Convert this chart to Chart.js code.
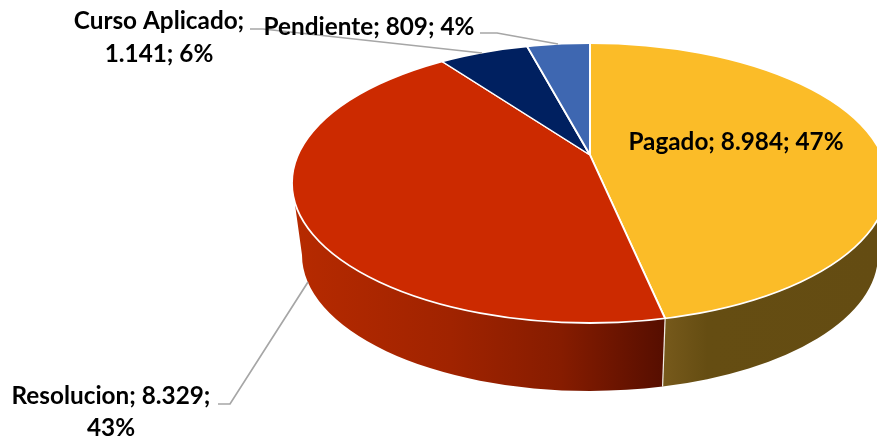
<!DOCTYPE html>
<html><head><meta charset="utf-8">
<style>html,body{margin:0;padding:0;background:#fff;overflow:hidden}canvas{display:block}</style>
<script src="https://cdn.jsdelivr.net/npm/chart.js@4"></script>
</head><body>
<canvas id="c" width="877" height="438"></canvas>
<script>
const categories = ["Pagado", "Resolucion", "Curso Aplicado", "Pendiente"];
const values = [8984, 8329, 1141, 809];
const colors = ["#FBBC28", "#CC2A00", "#002060", "#3E67B1"];

const total = values.reduce((a, b) => a + b, 0);
const fmt = v => String(v).replace(/\B(?=(\d{3})+$)/g, ".");
const pct = v => Math.round(v / total * 100) + "%";

// Projection of the tilted disc
const top3d = {cx: 590, cy: 183, rx: 298, ry: 140};
const low3d = {cx: 590, cy: 255, rx: 288, ry: 136};
const apex = {x: 590, y: 155};
const spread = {x: 375, y: 175};

function rayToEllipseParam(a) {
  const dx = Math.cos(a) * spread.x, dy = Math.sin(a) * spread.y;
  const ox = (apex.x - top3d.cx) / top3d.rx, oy = (apex.y - top3d.cy) / top3d.ry;
  const ux = dx / top3d.rx, uy = dy / top3d.ry;
  const A = ux * ux + uy * uy, B = 2 * (ox * ux + oy * uy), C = ox * ox + oy * oy - 1;
  const t = (-B + Math.sqrt(B * B - 4 * A * C)) / (2 * A);
  return Math.atan2(oy + uy * t, ox + ux * t);
}
function ellipseTop(ctx) { ctx.ellipse(top3d.cx, top3d.cy, top3d.rx, top3d.ry, 0, 0, Math.PI * 2); }

const wallStops = {
  0: [[0.0, "#76591B"], [0.2, "#654D12"], [1, "#644C12"]],
  1: [[0.0, "#B62A00"], [0.42, "#A02300"], [0.72, "#861C00"], [1, "#560E00"]]
};
const wallRange = {0: [665, 877], 1: [296, 664]};

const pie3d = {
  id: "pie3d",
  beforeDatasetsDraw(chart) {
    const ctx = chart.ctx, arcs = chart.getDatasetMeta(0).data;
    ctx.save();
    arcs.forEach((arc, i) => {
      if (!wallStops[i]) return;
      const s = arc.getProps(["startAngle", "endAngle"], true);
      const t0 = i === 0 ? 0 : rayToEllipseParam(s.startAngle);
      const t1 = i === 0 ? rayToEllipseParam(s.endAngle) : Math.PI;
      const g = ctx.createLinearGradient(wallRange[i][0], 0, wallRange[i][1], 0);
      wallStops[i].forEach(p => g.addColorStop(p[0], p[1]));
      ctx.beginPath();
      ctx.ellipse(top3d.cx, top3d.cy, top3d.rx, top3d.ry, 0, t0, t1);
      ctx.ellipse(low3d.cx, low3d.cy, low3d.rx, low3d.ry, 0, t1, t0, true);
      ctx.closePath();
      ctx.fillStyle = g;
      ctx.fill();
    });
    // seam between the two visible walls
    const tm = rayToEllipseParam(arcs[0].getProps(["endAngle"], true).endAngle);
    ctx.strokeStyle = "#F2EDE6";
    ctx.lineWidth = 1.2;
    ctx.beginPath();
    ctx.moveTo(top3d.cx + top3d.rx * Math.cos(tm), top3d.cy + top3d.ry * Math.sin(tm));
    ctx.lineTo(low3d.cx + low3d.rx * Math.cos(tm), low3d.cy + low3d.ry * Math.sin(tm));
    ctx.stroke();
    ctx.restore();

    // top face: the library's slices, foreshortened and cut by the disc outline
    const a = arcs[0].getProps(["x", "y", "outerRadius"], true);
    ctx.save();
    ctx.beginPath();
    ellipseTop(ctx);
    ctx.clip();
    ctx.translate(apex.x, apex.y);
    ctx.scale(spread.x / a.outerRadius, spread.y / a.outerRadius);
    ctx.translate(-a.x, -a.y);
  },
  afterDatasetsDraw(chart) {
    const ctx = chart.ctx;
    ctx.restore();
    ctx.save();
    ctx.strokeStyle = "#FFFFFF";
    ctx.lineWidth = 1.8;
    ctx.beginPath();
    ellipseTop(ctx);
    ctx.stroke();
    ctx.restore();
  },
  afterDraw(chart) {
    const ctx = chart.ctx;
    ctx.save();
    ctx.strokeStyle = "#A6A6A6";
    ctx.lineWidth = 1.7;
    [
      [[250, 29], [263, 29], [482, 53]],
      [[480, 33], [497, 33], [558, 44]],
      [[218, 404], [230, 404], [308, 282]]
    ].forEach(l => {
      ctx.beginPath();
      l.forEach((p, i) => i ? ctx.lineTo(p[0], p[1]) : ctx.moveTo(p[0], p[1]));
      ctx.stroke();
    });
    ctx.fillStyle = "#000";
    ctx.font = "bold 24.3px Lato, 'Open Sans', sans-serif";
    ctx.textAlign = "center";
    ctx.textBaseline = "alphabetic";
    const v = i => fmt(values[i]), p = i => pct(values[i]);
    [
      [categories[0] + "; " + v(0) + "; " + p(0), 736, 150],
      [categories[1] + "; " + v(1) + ";", 111, 404],
      [p(1), 111, 436],
      [categories[2] + ";", 159, 29],
      [v(2) + "; " + p(2), 159, 62],
      [categories[3] + "; " + v(3) + "; " + p(3), 369, 35]
    ].forEach(t => ctx.fillText(t[0], t[1], t[2]));
    ctx.restore();
  }
};

new Chart(document.getElementById("c"), {
  type: "pie",
  data: {
    labels: categories,
    datasets: [{data: values, backgroundColor: colors, borderColor: "#FFFFFF", borderWidth: 1.2, clip: false}]
  },
  options: {
    responsive: false,
    animation: false,
    plugins: {legend: {display: false}, tooltip: {enabled: false}},
    layout: {padding: 0}
  },
  plugins: [pie3d]
});
</script>
</body></html>
